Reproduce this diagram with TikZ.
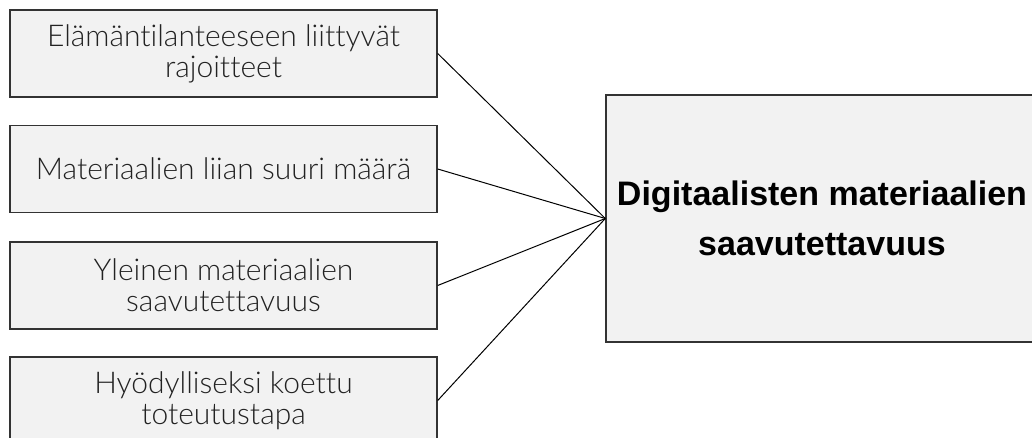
\documentclass[tikz,border=0pt]{standalone}
\usepackage{fontspec}
\setmainfont{Liberation Sans}
\newfontfamily\thinsans{Lato Light}[Ligatures={NoCommon}]
\definecolor{boxfill}{HTML}{F2F2F2}
\definecolor{boxline}{HTML}{333333}
\definecolor{txt}{HTML}{222222}
\begin{document}
\begin{tikzpicture}[x=1pt,y=-1pt,
  factor/.style={draw=boxline, line width=1.4pt, fill=boxfill, inner sep=0pt,
    minimum width=427pt, minimum height=87pt, align=center, text=txt,
    font=\thinsans\fontsize{30}{31}\selectfont},
  target/.style={draw=boxline, line width=1.4pt, fill=boxfill, inner sep=0pt,
    minimum width=432pt, minimum height=247pt, align=center,
    font=\bfseries\fontsize{34}{50}\selectfont},
  link/.style={draw=black, line width=1pt}]
\useasboundingbox (0,0) rectangle (1032,438);
\node[factor] (f1) at (223.5,53.5) {Elämäntilanteeseen liittyvät\\rajoitteet};
\node[factor] (f2) at (223.5,169) {Materiaalien liian suuri määrä};
\node[factor] (f3) at (223.5,285.5) {Yleinen materiaalien\\saavutettavuus};
\node[factor] (f4) at (223.5,400.5) {Hyödylliseksi koettu\\toteutustapa};
\node[target] (t) at (822,218.5) {Digitaalisten materiaalien\\saavutettavuus};
\foreach \f in {f1,f2,f3,f4}
  \draw[link] (\f.east) -- (t.west);
\end{tikzpicture}
\end{document}
